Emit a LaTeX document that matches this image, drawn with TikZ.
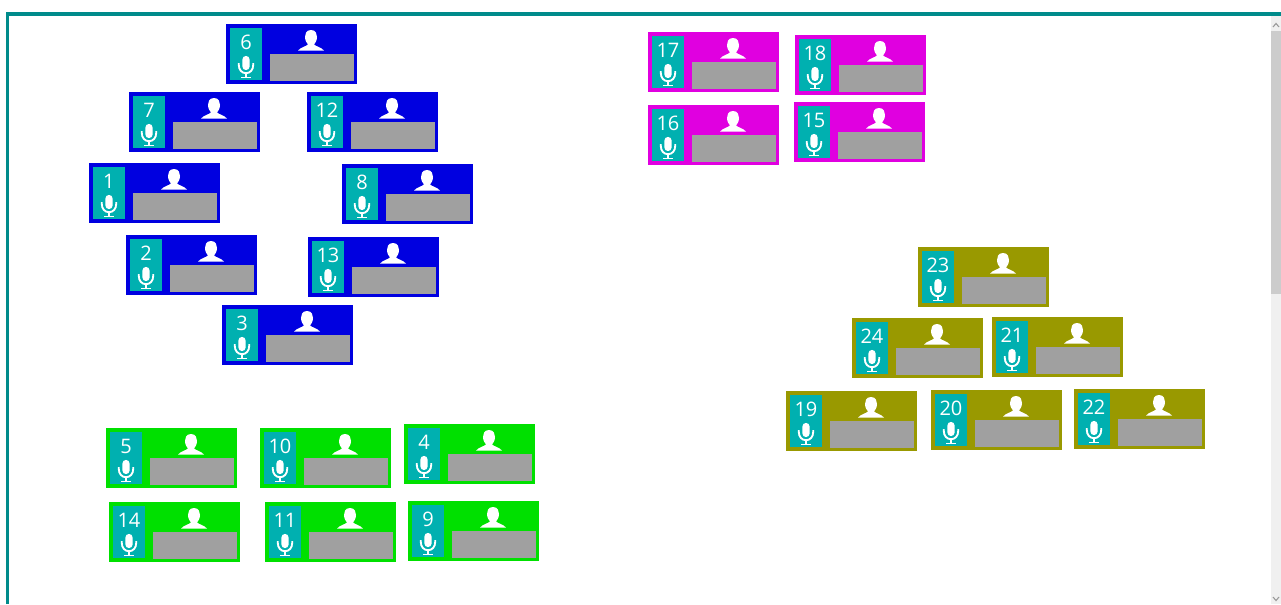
\documentclass[tikz,border=0pt]{standalone}
\usepackage{fontspec}
\setmainfont{Open Sans}
\usetikzlibrary{positioning}
\definecolor{framecol}{HTML}{008B8B}
\definecolor{numcol}{HTML}{00B0B0}
\definecolor{namecol}{HTML}{A0A0A0}
\definecolor{bluecol}{HTML}{0000E0}
\definecolor{pinkcol}{HTML}{E000E0}
\definecolor{greencol}{HTML}{00E000}
\definecolor{olivecol}{HTML}{999900}
\tikzset{
  tilebox/.style={anchor=north west,minimum width=98.25pt,minimum height=45.5pt,inner sep=0pt,fill=#1},
  numbox/.style={anchor=north west,fill=numcol,minimum width=24pt,minimum height=39pt,inner sep=0pt},
  namebox/.style={anchor=north west,fill=namecol,minimum width=63pt,minimum height=20pt,inner sep=0pt},
  numtext/.style={anchor=center,inner sep=0pt,text=white,font=\fontsize{15}{15}\selectfont},
}
% one participant tile: name, x, y, colour
\newcommand{\tile}[4]{
  \node[tilebox=#4] (tile#1) at (#2-0.3,#3-0.5) {};
  \node[numbox] (num#1) at ([xshift=3.2pt,yshift=-3.4pt]tile#1.north west) {};
  \node[namebox] (name#1) at ([xshift=33.1pt,yshift=-22.8pt]tile#1.north west) {};
  \node[numtext] (label#1) at ([xshift=15.2pt,yshift=-14.2pt]tile#1.north west) {#1};
  \begin{scope}[shift={(#2,#3)}]
    % person
    \fill[white] (85,6) .. controls (80,6) and (79,10) .. (79,13) .. controls (79,17) and (81,19) .. (82,20.5)
      .. controls (80,22.5) and (75,23) .. (72,26.6) -- (98,26.6) .. controls (95,23) and (90,22.5) .. (88,20.5)
      .. controls (89,19) and (91,17) .. (91,13) .. controls (91,10) and (90,6) .. (85,6) -- cycle;
    % microphone
    \fill[white] (16.4,35.5) arc (180:360:3.6) -- (23.6,42.5) arc (0:180:3.6) -- cycle;
    \draw[white,line width=1.4pt] (12.8,39) -- (12.8,41) .. controls (12.8,46) and (16,49.2) .. (20,49.2)
      .. controls (24,49.2) and (27.2,46) .. (27.2,41) -- (27.2,39);
    \draw[white,line width=1.4pt] (20,49) -- (20,53.5) (15,53.5) -- (25,53.5);
  \end{scope}
}
\begin{document}
\begin{tikzpicture}[x=0.75pt,y=-0.75pt]
  \useasboundingbox (0,0) rectangle (1281,604);
  % scrollbar
  \fill[black!6] (1271,16) rectangle (1281,604);
  \fill[black!20] (1271,31) rectangle (1281,294);
  \draw[black!40,line width=0.8pt] (1273,27) -- (1276,23.5) -- (1279,27);
  \draw[black!40,line width=0.8pt] (1273,597) -- (1276,600.5) -- (1279,597);
  % frame
  \draw[framecol,line width=2.6pt] (7.5,604) -- (7.5,14) -- (1281,14);

  \tile{6}{226}{24}{bluecol}
  \tile{7}{129}{92}{bluecol}
  \tile{12}{307}{92}{bluecol}
  \tile{1}{89}{163}{bluecol}
  \tile{8}{342}{164}{bluecol}
  \tile{2}{126}{235}{bluecol}
  \tile{13}{308}{237}{bluecol}
  \tile{3}{222}{305}{bluecol}

  \tile{5}{106}{428}{greencol}
  \tile{10}{260}{428}{greencol}
  \tile{4}{404}{424}{greencol}
  \tile{14}{109}{502}{greencol}
  \tile{11}{265}{502}{greencol}
  \tile{9}{408}{501}{greencol}

  \tile{17}{648}{32}{pinkcol}
  \tile{18}{795}{35}{pinkcol}
  \tile{16}{648}{105}{pinkcol}
  \tile{15}{794}{102}{pinkcol}

  \tile{23}{918}{247}{olivecol}
  \tile{24}{852}{318}{olivecol}
  \tile{21}{992}{317}{olivecol}
  \tile{19}{786}{391}{olivecol}
  \tile{20}{931}{390}{olivecol}
  \tile{22}{1074}{389}{olivecol}
\end{tikzpicture}
\end{document}
